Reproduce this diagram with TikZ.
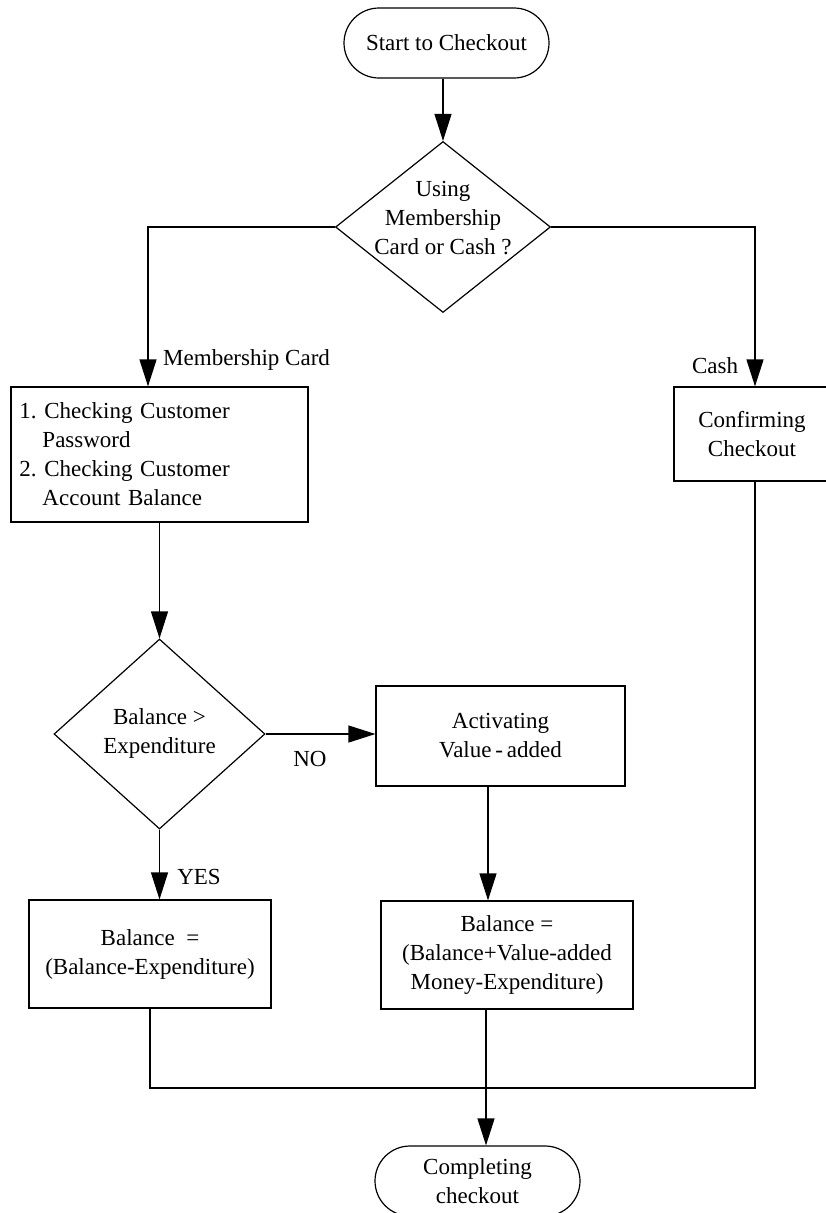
\documentclass[tikz,border=0pt]{standalone}
\usepackage{fontspec}
\setmainfont{Liberation Serif}
\usetikzlibrary{arrows.meta,shapes.geometric,shapes.misc}
\frenchspacing
\begin{document}
\begin{tikzpicture}[x=1pt,y=1pt,
  every node/.style={font=\fontsize{23}{29}\selectfont},
  box/.style={draw, line width=1.2pt, rectangle, inner sep=0pt, align=center},
  terminal/.style={draw, line width=1.2pt, rounded rectangle, minimum width=205pt,
    minimum height=70pt, inner sep=0pt, align=center},
  decision/.style={draw, line width=1.2pt, diamond, inner sep=0pt},
  flow/.style={draw, line width=1.2pt, -{Triangle[length=27pt,width=17pt]}},
  link/.style={draw, line width=1.2pt},
  lbl/.style={inner sep=0pt}
]
\useasboundingbox (0,0) rectangle (825,-1213);

% start and first decision
\node[terminal] (start) at (446.5,-43) {Start to Checkout};
\node[decision, minimum width=215pt, minimum height=171pt] (d1) at (443,-227) {};
\node[lbl, align=center] (d1t) at (443,-218) {Using\\Membership\\Card or Cash ?};

% membership card branch
\node[box, minimum width=297pt, minimum height=135pt, text width=280pt, align=left] (chk)
  at (159.5,-454.5) {1. Checking Customer\\\hspace*{23pt}Password\\2. Checking Customer\\\hspace*{23pt}Account Balance};
\node[decision, minimum width=211pt, minimum height=190pt] (d2) at (159.5,-734) {};
\node[lbl, align=center] (d2t) at (159.5,-733) {Balance >\\Expenditure};
\node[box, minimum width=249pt, minimum height=100pt] (act) at (500.5,-736) {Activating\\Value\,-\,added};
\node[box, minimum width=242pt, minimum height=108pt] (balL) at (150,-954) {Balance \ =\\(Balance-Expenditure)};
\node[box, minimum width=252pt, minimum height=108pt] (balR) at (507,-955) {Balance =\\(Balance+Value-added\\Money-Expenditure)};

% cash branch
\node[box, minimum width=156pt, minimum height=94pt] (conf) at (752,-434) {Confirming\\Checkout};

% end
\node[terminal] (end) at (477.5,-1181) {Completing\\checkout};

% edge labels
\node[lbl, anchor=west] (lm) at (163,-360) {Membership Card};
\node[lbl] (lc) at (715,-366) {Cash};
\node[lbl] (lno) at (310,-759) {NO};
\node[lbl] (lyes) at (199,-877) {YES};

% connectors
\draw[flow] (d1.north |- start.south) -- (d1.north);
\draw[flow] (d1.west) -| ([xshift=-11.5pt]chk.north);
\draw[flow] (d1.east) -| ([xshift=3pt]conf.north);
\draw[flow] (chk.south) -- (d2.north);
\draw[flow] (d2.east) -- (d2.east -| act.west);
\draw[flow] (d2.south) -- (d2.south |- balL.north);
\draw[flow] ([xshift=-12.5pt]act.south) -- ([xshift=-12.5pt]act.south |- balR.north);
\coordinate (join) at (486,-1088);
\draw[link] (balL.south) |- (join);
\draw[link] ([xshift=3pt]conf.south) |- (join);
\draw[flow] (join |- balR.south) -- (join |- end.north);
\end{tikzpicture}
\end{document}
